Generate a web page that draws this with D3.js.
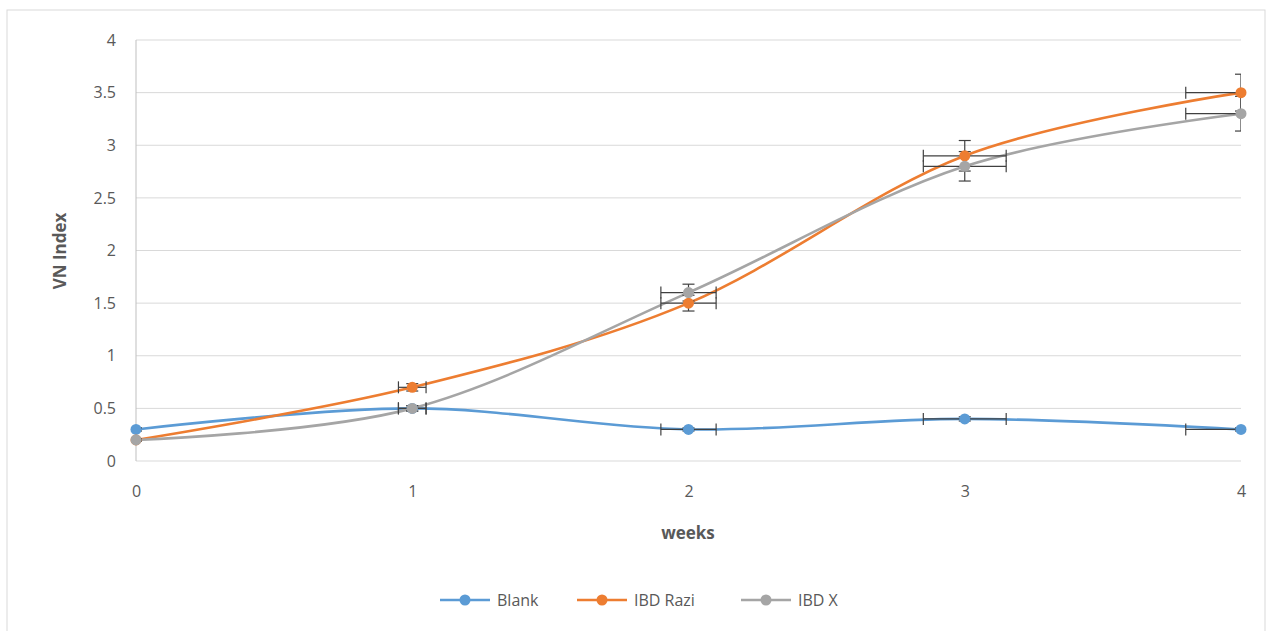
<!DOCTYPE html>
<html>
<head>
<meta charset="utf-8">
<script src="https://cdn.jsdelivr.net/npm/d3@7"></script>
<style>
  body { margin: 0; background: #fff; }
  text { font-family: "Open Sans", "Liberation Sans", sans-serif; fill: #595959; }
</style>
</head>
<body>
<svg id="chart" width="1275" height="631"></svg>
<script>
const weeks = [0, 1, 2, 3, 4];
const blank = [0.3, 0.5, 0.3, 0.4, 0.3];
const ibdRazi = [0.2, 0.7, 1.5, 2.9, 3.5];
const ibdX = [0.2, 0.5, 1.6, 2.8, 3.3];
const yTicks = [0, 0.5, 1, 1.5, 2, 2.5, 3, 3.5, 4];
const errPct = 0.05; // 5% error bars on both axes

const series = [
  { name: "Blank", values: blank, color: "#5B9BD5" },
  { name: "IBD Razi", values: ibdRazi, color: "#ED7D31" },
  { name: "IBD X", values: ibdX, color: "#A5A5A5" }
];

const svg = d3.select("#chart");

// chart area border
svg.append("rect")
  .attr("x", 7).attr("y", 10)
  .attr("width", 1258).attr("height", 640)
  .attr("fill", "none")
  .attr("stroke", "#d9d9d9");

const x = d3.scaleLinear().domain([0, 4]).range([136, 1241]);
const y = d3.scaleLinear().domain([0, 4]).range([461, 40]);

// clip for error bars (Excel clips them to the plot area)
svg.append("clipPath").attr("id", "plotClip")
  .append("rect")
  .attr("x", x(0)).attr("y", y(4) - 20)
  .attr("width", x(4) - x(0)).attr("height", y(0) - y(4) + 20);

// gridlines
svg.append("g")
  .selectAll("line")
  .data(yTicks)
  .join("line")
  .attr("x1", x(0)).attr("x2", x(4))
  .attr("y1", d => y(d)).attr("y2", d => y(d))
  .attr("stroke", "#d9d9d9")
  .attr("stroke-width", 1);

// left axis line
svg.append("line")
  .attr("x1", x(0)).attr("x2", x(0))
  .attr("y1", y(0)).attr("y2", y(4))
  .attr("stroke", "#bfbfbf");

// y axis
const yAxis = svg.append("g")
  .attr("transform", `translate(${x(0)},0)`)
  .call(d3.axisLeft(y).tickValues(yTicks).tickSize(0).tickPadding(20).tickFormat(d3.format("")));
yAxis.select(".domain").remove();
yAxis.selectAll("text").style("font-size", "16px").attr("fill", "#595959");

// x axis
const xAxis = svg.append("g")
  .attr("transform", `translate(0,${y(0)})`)
  .call(d3.axisBottom(x).tickValues(weeks).tickSize(0).tickPadding(25).tickFormat(d3.format("d")));
xAxis.select(".domain").remove();
xAxis.selectAll("text").style("font-size", "16px").attr("fill", "#595959");

// axis titles
svg.append("text")
  .attr("transform", "translate(66,251) rotate(-90)")
  .attr("text-anchor", "middle")
  .style("font-size", "17px")
  .style("font-weight", "bold")
  .text("VN Index");

svg.append("text")
  .attr("x", 688).attr("y", 539)
  .attr("text-anchor", "middle")
  .style("font-size", "17px")
  .style("font-weight", "bold")
  .text("weeks");

const line = d3.line()
  .x((d, i) => x(weeks[i]))
  .y(d => y(d))
  .curve(d3.curveCardinal.tension(0));

// lines
series.forEach(s => {
  svg.append("path")
    .datum(s.values)
    .attr("d", line)
    .attr("fill", "none")
    .attr("stroke", s.color)
    .attr("stroke-width", 2.6);
});

// error bars
const errColor = "#404040";
const cap = 6;
series.forEach(s => {
  const g = svg.append("g")
    .attr("clip-path", "url(#plotClip)")
    .attr("stroke", errColor).attr("stroke-width", 1.2);
  s.values.forEach((v, i) => {
    const wx = weeks[i], ex = wx * errPct, ey = v * errPct;
    const cx = x(wx), cy = y(v);
    if (ex > 0) {
      g.append("line").attr("x1", x(wx - ex)).attr("x2", x(wx + ex)).attr("y1", cy).attr("y2", cy);
      g.append("line").attr("x1", x(wx - ex)).attr("x2", x(wx - ex)).attr("y1", cy - cap).attr("y2", cy + cap);
      g.append("line").attr("x1", x(wx + ex)).attr("x2", x(wx + ex)).attr("y1", cy - cap).attr("y2", cy + cap);
    }
    g.append("line").attr("x1", cx).attr("x2", cx).attr("y1", y(v - ey)).attr("y2", y(v + ey));
    g.append("line").attr("x1", cx - cap).attr("x2", cx + cap).attr("y1", y(v - ey)).attr("y2", y(v - ey));
    g.append("line").attr("x1", cx - cap).attr("x2", cx + cap).attr("y1", y(v + ey)).attr("y2", y(v + ey));
  });
});

// markers
series.forEach(s => {
  svg.append("g")
    .selectAll("circle")
    .data(s.values)
    .join("circle")
    .attr("cx", (d, i) => x(weeks[i]))
    .attr("cy", d => y(d))
    .attr("r", 5.5)
    .attr("fill", s.color);
});

// legend
const legendX = [440, 577, 741];
series.forEach((s, i) => {
  const lg = svg.append("g").attr("transform", `translate(${legendX[i]},600)`);
  lg.append("line").attr("x1", 0).attr("x2", 50).attr("y1", 0).attr("y2", 0)
    .attr("stroke", s.color).attr("stroke-width", 2.6);
  lg.append("circle").attr("cx", 25).attr("cy", 0).attr("r", 5.5).attr("fill", s.color);
  lg.append("text").attr("x", 57).attr("y", 6)
    .style("font-size", "16px")
    .text(s.name);
});
</script>
</body>
</html>
